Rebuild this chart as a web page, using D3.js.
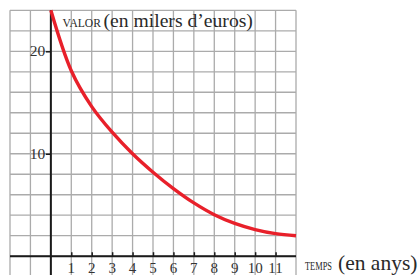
<!DOCTYPE html>
<html>
<head>
<meta charset="utf-8">
<script src="https://cdn.jsdelivr.net/npm/d3@7"></script>
<style>
  html, body { margin: 0; padding: 0; background: #fff; }
  svg { display: block; }
</style>
</head>
<body>
<div id="root"></div>
<script>
// Years (x) and value in thousands of euros (y)
const years = [0, 1, 2, 3, 4, 5, 6, 7, 8, 9, 10, 11, 12];
const values = [24, 18.1, 14.6, 12.1, 10.0, 8.2, 6.6, 5.2, 4.05, 3.2, 2.6, 2.2, 2.0];
const xTickLabels = [1, 2, 3, 4, 5, 6, 7, 8, 9, 10, 11];
const yTickLabels = [10, 20];

const width = 419, height = 275;
const font = "'Liberation Serif', 'DejaVu Serif', serif";

// grid runs from -2..12 in x and -2..24 in y
const x = d3.scaleLinear().domain([-2, 12]).range([10, 296]);
const y = d3.scaleLinear().domain([-2, 24]).range([276.7, 10.3]);

const svg = d3.select("#root")
  .append("svg")
  .attr("width", width)
  .attr("height", height);

// grid
const grid = svg.append("g")
  .attr("stroke", "#ababab")
  .attr("stroke-width", 1.3);

grid.selectAll("line.v")
  .data(d3.range(-2, 13))
  .join("line")
  .attr("class", "v")
  .attr("x1", d => x(d)).attr("x2", d => x(d))
  .attr("y1", y(24)).attr("y2", y(-2));

grid.selectAll("line.h")
  .data(d3.range(-2, 25, 2))
  .join("line")
  .attr("class", "h")
  .attr("y1", d => y(d)).attr("y2", d => y(d))
  .attr("x1", x(-2)).attr("x2", x(12));

// axes through the origin
svg.append("line")
  .attr("x1", x(-2)).attr("x2", x(12))
  .attr("y1", y(0)).attr("y2", y(0))
  .attr("stroke", "#1a1a1a").attr("stroke-width", 2);

svg.append("line")
  .attr("x1", x(0)).attr("x2", x(0))
  .attr("y1", y(24)).attr("y2", y(-2))
  .attr("stroke", "#1a1a1a").attr("stroke-width", 2);

// x ticks + labels
svg.append("g")
  .attr("transform", `translate(0,${y(0)})`)
  .call(d3.axisTop(x).tickValues(xTickLabels).tickSize(4).tickFormat(""))
  .call(g => g.select(".domain").remove())
  .call(g => g.selectAll("line").attr("stroke", "#1a1a1a").attr("stroke-width", 1.5));

svg.append("g")
  .selectAll("text")
  .data(xTickLabels)
  .join("text")
  .attr("x", d => x(d))
  .attr("y", 273)
  .attr("text-anchor", "middle")
  .attr("font-family", font)
  .attr("font-size", 15)
  .attr("fill", "#333")
  .text(d => d);

// y ticks + labels
svg.append("g")
  .attr("transform", `translate(${x(0)},0)`)
  .call(d3.axisLeft(y).tickValues(yTickLabels).tickSize(5).tickFormat(""))
  .call(g => g.select(".domain").remove())
  .call(g => g.selectAll("line").attr("stroke", "#1a1a1a").attr("stroke-width", 1.5));

svg.append("g")
  .selectAll("text")
  .data(yTickLabels)
  .join("text")
  .attr("x", x(0) - 5.5)
  .attr("y", d => y(d) + 5)
  .attr("text-anchor", "end")
  .attr("font-family", font)
  .attr("font-size", 15.5)
  .attr("fill", "#333")
  .text(d => d);

// the curve
const line = d3.line()
  .x((d, i) => x(years[i]))
  .y(d => y(d))
  .curve(d3.curveCatmullRom);

svg.append("path")
  .datum(values)
  .attr("d", line)
  .attr("fill", "none")
  .attr("stroke", "#e8202a")
  .attr("stroke-width", 3.4);

// a piece of text squeezed horizontally to a given width (the printed font is narrow)
function squeezed(str, x0, yb, size, targetW) {
  const t = svg.append("text")
    .attr("font-family", font)
    .attr("font-size", size)
    .attr("fill", "#2a2a2a")
    .text(str);
  const w = t.node().getComputedTextLength();
  t.attr("transform", `translate(${x0},${yb}) scale(${targetW / w},1)`);
}

// axis titles: small-caps word followed by the unit in parentheses
squeezed("VALOR", 62.5, 27.3, 12.5, 38.5);
squeezed("(en milers d’euros)", 103.5, 27.3, 19, 149.5);
squeezed("TEMPS", 305, 269.5, 12.5, 27);
squeezed("(en anys)", 338, 269.5, 20.5, 79.5);
</script>
</body>
</html>
